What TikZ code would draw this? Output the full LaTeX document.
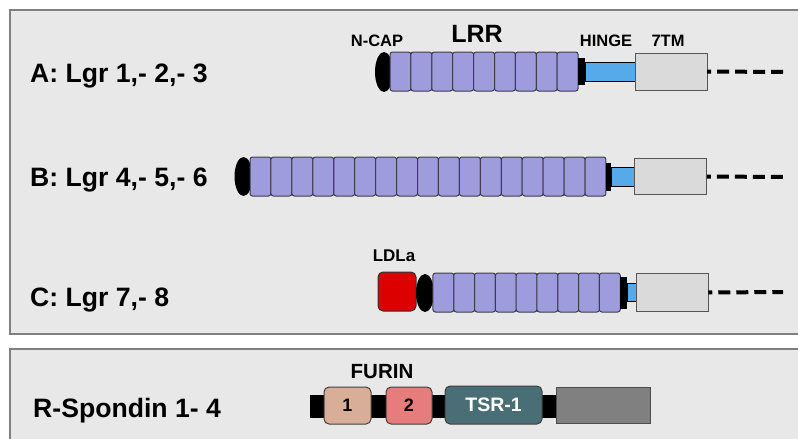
\documentclass[tikz,border=0pt]{standalone}
\usepackage{fontspec}
\setmainfont{Liberation Sans}
\usetikzlibrary{shapes.geometric}
\definecolor{panelbg}{HTML}{E8E8E8}
\definecolor{panelbd}{HTML}{7F7F7F}
\definecolor{lrrfill}{HTML}{9E9CDC}
\definecolor{lrrbd}{HTML}{3C3C4C}
\definecolor{hingec}{HTML}{56AAEA}
\definecolor{tmfill}{HTML}{DADADA}
\definecolor{tmbd}{HTML}{555555}
\definecolor{ldlac}{HTML}{DD0000}
\definecolor{furA}{HTML}{D9AE98}
\definecolor{furB}{HTML}{E67C7C}
\definecolor{tsrc}{HTML}{4A6E75}
\definecolor{ctermc}{HTML}{808080}
\begin{document}
\begin{tikzpicture}[x=1pt,y=-1pt,
  panel/.style={draw=panelbd, line width=2pt, fill=panelbg},
  bx/.style={inner sep=0pt, outer sep=0pt},
  lrrbox/.style={bx, draw=lrrbd, line width=1pt, fill=lrrfill, rounded corners=2.5pt, minimum width=20.9pt, minimum height=39pt},
  ncap/.style={bx, ellipse, fill=black, minimum width=18pt},
  capbox/.style={bx, fill=black, minimum width=7pt},
  hingebox/.style={bx, draw=black, line width=0.8pt, fill=hingec},
  tmbox/.style={bx, draw=tmbd, line width=1pt, fill=tmfill, minimum width=72pt},
  tail/.style={line width=4pt, dash pattern=on 12pt off 6pt, dash phase=8pt},
  rowlbl/.style={inner sep=0pt, font=\bfseries\fontsize{26.6}{30}\selectfont, anchor=base west},
  smlbl/.style={inner sep=0pt, font=\bfseries\fontsize{16.5}{19}\selectfont, anchor=base},
  fur/.style={bx, draw=black!75, line width=1pt, rounded corners=5pt, minimum height=37pt, font=\bfseries\fontsize{18}{20}\selectfont}
]
\useasboundingbox (0,0) rectangle (798,439);
\clip (0,0) rectangle (798,439);
\fill[white] (0,0) rectangle (798,439);
\draw[panel] (10,10) rectangle (830,334);
\draw[panel] (10,349) rectangle (830,470);

% ---------- Row A ----------
\node[rowlbl] (la) at (30,82) {A: Lgr 1,- 2,- 3};
\node[ncap, minimum height=40pt] (an) at (384,72) {};
\foreach \i in {1,...,9}
  \node[lrrbox] (a\i) at ({390+20.9*(\i-0.5)},71.5) {};
\node[capbox, anchor=west, minimum height=27pt] (acap) at (a9.east) {};
\node[hingebox, anchor=west, minimum width=50pt, minimum height=19pt] (ahinge) at (acap.east) {};
\node[tmbox, anchor=west, minimum height=37pt] (atm) at (ahinge.east) {};
\coordinate (aend) at (783,72);
\draw[tail] (atm.east) -- (aend);
\node[smlbl] (tncap) at (377,46) {N-CAP};
\node[inner sep=0pt, anchor=base, font=\bfseries\fontsize{25}{29}\selectfont] (tlrr) at (477,42) {LRR};
\node[smlbl] (thinge) at (606,46.5) {HINGE};
\node[smlbl] (ttm) at (668,46) {7TM};

% ---------- Row B ----------
\node[rowlbl] (lb) at (30,186) {B: Lgr 4,- 5,- 6};
\node[ncap, minimum height=39pt] (bn) at (243.5,176.5) {};
\foreach \i in {1,...,17}
  \node[lrrbox] (b\i) at ({250+20.94*(\i-0.5)},176.5) {};
\node[capbox, anchor=west, minimum width=5pt, minimum height=28pt] (bcap) at (b17.east) {};
\node[hingebox, anchor=west, minimum width=24pt, minimum height=19pt] (bhinge) at (bcap.east) {};
\node[tmbox, anchor=west, minimum height=36pt] (btm) at (bhinge.east) {};
\coordinate (bend) at (783,177);
\draw[tail] (btm.east) -- (bend);

% ---------- Row C ----------
\node[rowlbl] (lc) at (30,306) {C: Lgr 7,- 8};
\node[bx, draw=black!80, line width=1pt, fill=ldlac, rounded corners=5pt, minimum width=38pt, minimum height=39pt] (cldla) at (397,291.5) {};
\node[ncap, minimum height=38pt] (cn) at (425,293) {};
\foreach \i in {1,...,9}
  \node[lrrbox] (c\i) at ({433+20.8*(\i-0.5)},292.5) {};
\node[capbox, anchor=west, minimum height=32pt] (ccap) at (c9.east) {};
\node[hingebox, anchor=west, minimum width=9pt, minimum height=18pt] (chinge) at (ccap.east) {};
\node[tmbox, anchor=west, minimum height=38pt] (ctm) at (chinge.east) {};
\coordinate (cend) at (783,292);
\draw[tail] (ctm.east) -- (cend);
\node[smlbl, font=\bfseries\fontsize{17}{20}\selectfont] (tldla) at (394,261) {LDLa};

% ---------- R-Spondin ----------
\node[rowlbl] (lr) at (33,417) {R-Spondin 1- 4};
\node[bx, fill=black, minimum width=250pt, minimum height=23pt, anchor=west] (rbar) at (310,406.5) {};
\node[fur, fill=furA, minimum width=47pt] (r1) at (347.5,405.5) {\raisebox{-3pt}{1}};
\node[fur, fill=furB, minimum width=46pt] (r2) at (409,405.5) {\raisebox{-3pt}{2}};
\node[fur, fill=tsrc, minimum width=97pt, minimum height=38pt, text=white, font=\bfseries\fontsize{19.5}{22}\selectfont] (rtsr) at (493.5,405) {TSR-1};
\node[bx, draw=black!70, line width=1pt, fill=ctermc, minimum width=94pt, minimum height=36pt] (rc) at (603,405) {};
\node[inner sep=0pt, anchor=base, font=\bfseries\fontsize{20.5}{24}\selectfont] (tfur) at (382,378) {FURIN};
\end{tikzpicture}
\end{document}
